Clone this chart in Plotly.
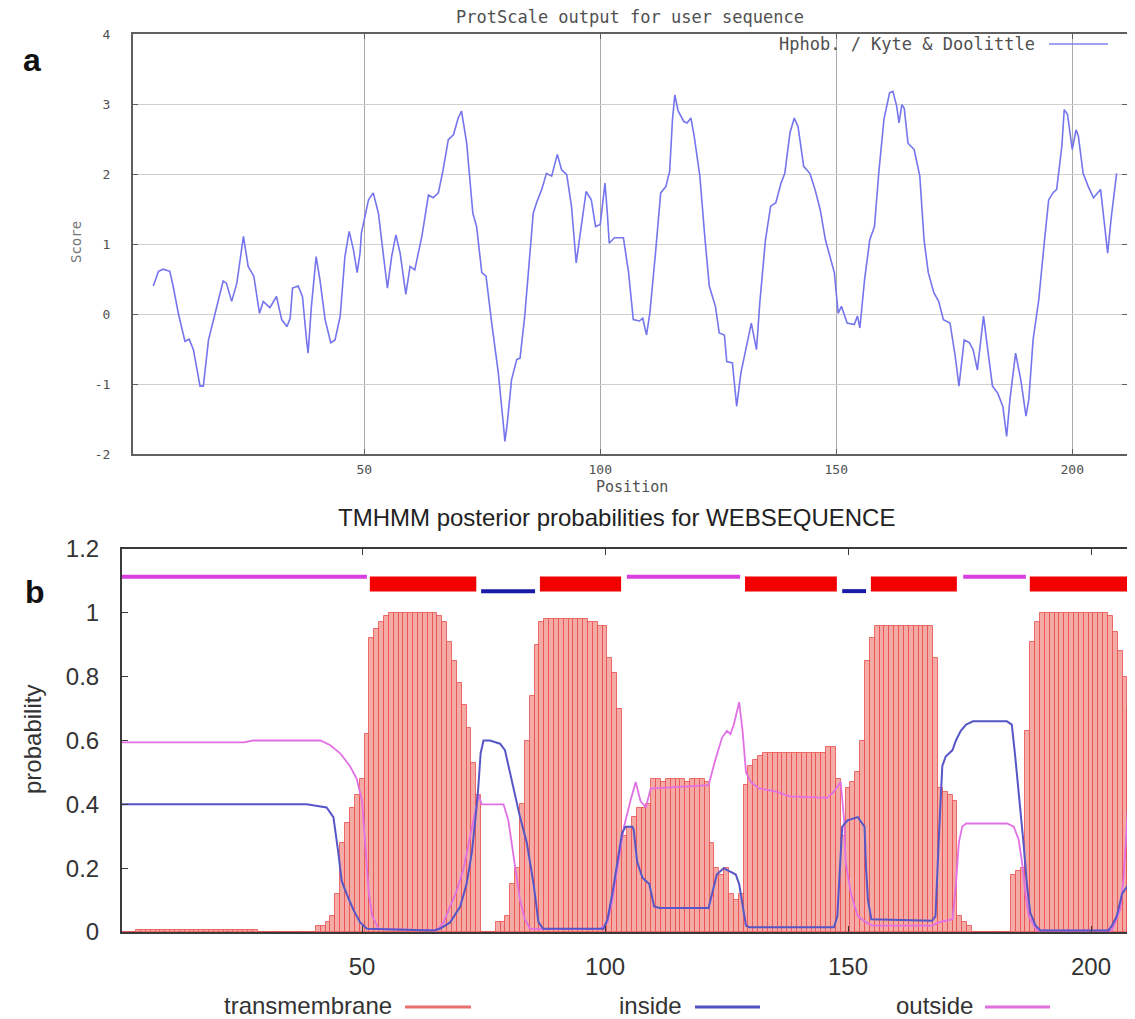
import plotly.graph_objects as go

# ---------------- Panel a: ProtScale (Kyte & Doolittle) ----------------
hyd_pos = [5.3, 6.4, 7.4, 8.8, 9.5, 10.6, 12.0, 12.9, 13.8, 15.2, 15.9, 17.0, 18.4, 20.1, 20.8,
           21.9, 23.0, 24.4, 25.4, 26.6, 27.8, 28.6, 30.0, 31.4, 32.5, 33.6, 34.3, 34.8, 36.0,
           36.9, 37.8, 38.1, 38.8, 39.8, 40.6, 41.7, 42.9, 43.8, 44.9, 45.9, 46.8, 47.7, 48.5,
           49.1, 49.4, 50.2, 50.9, 51.9, 53.0, 54.0, 54.9, 55.8, 56.7, 57.6, 58.8, 59.7, 60.7,
           62.2, 63.6, 64.6, 65.7, 66.7, 67.8, 68.9, 69.9, 70.6, 71.7, 73.0, 73.8, 74.9, 75.8,
           77.0, 78.4, 79.5, 79.8, 80.3, 81.2, 82.3, 83.0, 84.0, 85.1, 85.8, 86.5, 87.6, 88.6,
           89.7, 90.9, 91.8, 92.9, 93.9, 94.9, 95.7, 97.0, 98.1, 99.0, 100.0, 101.0, 101.5,
           101.9, 103.0, 104.9, 106.0, 107.0, 108.3, 109.0, 109.8, 110.5, 111.7, 112.8, 113.9,
           114.7, 115.3, 115.8, 116.5, 117.7, 118.4, 119.2, 119.9, 121.1, 122.2, 123.1, 124.4,
           125.2, 126.3, 126.8, 128.0, 128.9, 129.8, 131.2, 132.0, 133.1, 133.8, 135.0, 136.1,
           137.2, 138.3, 139.1, 140.2, 141.1, 141.9, 143.1, 144.4, 145.5, 146.6, 147.7, 148.9,
           149.6, 150.0, 150.4, 151.1, 152.3, 153.8, 154.5, 155.0, 156.0, 157.1, 158.1, 159.0,
           160.1, 161.3, 162.0, 162.8, 163.3, 163.9, 164.4, 165.2, 166.5, 167.7, 168.6, 169.5,
           170.7, 171.7, 172.7, 174.1, 175.2, 176.0, 177.1, 178.2, 179.0, 179.9, 180.7, 181.2,
           182.0, 183.1, 184.2, 185.3, 186.1, 186.8, 188.0, 189.1, 190.2, 190.8, 191.7, 192.9,
           194.0, 195.0, 195.9, 196.7, 197.8, 198.3, 199.0, 200.0, 200.8, 201.3, 202.3, 203.4,
           204.5, 206.0, 206.8, 207.5, 208.3, 209.4]
hyd_val = [0.40, 0.61, 0.64, 0.61, 0.40, 0.01, -0.39, -0.36, -0.51, -1.03, -1.03, -0.37, 0.01,
           0.47, 0.44, 0.18, 0.44, 1.11, 0.68, 0.54, 0.01, 0.18, 0.09, 0.25, -0.08, -0.18, -0.06,
           0.37, 0.40, 0.25, -0.39, -0.56, 0.11, 0.82, 0.49, -0.08, -0.41, -0.37, -0.03, 0.82,
           1.18, 0.92, 0.59, 0.87, 1.16, 1.44, 1.63, 1.73, 1.44, 0.87, 0.37, 0.82, 1.13, 0.87,
           0.28, 0.68, 0.63, 1.11, 1.70, 1.66, 1.73, 2.06, 2.49, 2.56, 2.80, 2.90, 2.44, 1.44,
           1.25, 0.59, 0.54, -0.13, -0.84, -1.60, -1.82, -1.56, -0.94, -0.65, -0.63, -0.03, 0.87,
           1.44, 1.59, 1.78, 2.01, 1.97, 2.28, 2.06, 1.99, 1.54, 0.73, 1.11, 1.75, 1.63, 1.25,
           1.28, 1.87, 1.44, 1.01, 1.09, 1.09, 0.59, -0.08, -0.10, -0.06, -0.30, 0.01, 0.87, 1.73,
           1.82, 2.04, 2.78, 3.13, 2.90, 2.75, 2.73, 2.80, 2.54, 1.97, 1.06, 0.40, 0.11, -0.27,
           -0.30, -0.68, -0.70, -1.32, -0.84, -0.37, -0.13, -0.51, 0.16, 1.06, 1.54, 1.59, 1.87,
           2.01, 2.59, 2.80, 2.68, 2.11, 2.01, 1.78, 1.49, 1.06, 0.78, 0.59, 0.30, 0.01, 0.11,
           -0.13, -0.15, -0.03, -0.20, 0.49, 1.06, 1.25, 2.01, 2.78, 3.16, 3.18, 2.97, 2.73, 2.99,
           2.94, 2.44, 2.35, 1.97, 1.06, 0.59, 0.30, 0.18, -0.08, -0.13, -0.60, -1.03, -0.37,
           -0.41, -0.51, -0.80, -0.37, -0.03, -0.46, -1.03, -1.13, -1.32, -1.75, -1.22, -0.56,
           -0.94, -1.46, -1.22, -0.37, 0.20, 0.97, 1.63, 1.73, 1.78, 2.40, 2.92, 2.85, 2.35, 2.63,
           2.54, 2.01, 1.82, 1.66, 1.78, 1.30, 0.87, 1.40, 2.01]
top_xticks = [50, 100, 150, 200]
top_yticks = [-2, -1, 0, 1, 2, 3, 4]
top_ytext = ["-2", "-1", "0", "1", "2", "3", "4"]

# ---------------- Panel b: TMHMM posterior probabilities ----------------
tm_pos = list(range(1, 210))
tm_val = ([0.0] * 3 + [0.005] * 25 + [0.0] * 12 +
          [0.02, 0.02, 0.03, 0.05, 0.12, 0.28, 0.34, 0.39, 0.43, 0.48, 0.62, 0.92, 0.95, 0.97, 0.99] +
          [1.0] * 10 +
          [0.99, 0.97, 0.91, 0.85, 0.78, 0.71, 0.64, 0.53, 0.43, 0.0, 0.0, 0.0, 0.03, 0.03, 0.05,
           0.15, 0.20, 0.40, 0.60, 0.74, 0.90, 0.97] +
          [0.98] * 9 +
          [0.97, 0.97, 0.96, 0.96, 0.86, 0.81, 0.70, 0.30, 0.33, 0.36, 0.39, 0.39, 0.40] +
          [0.48, 0.48, 0.47, 0.48, 0.48, 0.48, 0.48, 0.47, 0.48, 0.48, 0.48, 0.47] +
          [0.28, 0.20, 0.18, 0.20, 0.12, 0.10, 0.12, 0.46, 0.52, 0.54] +
          [0.55, 0.56, 0.56, 0.56, 0.56, 0.56, 0.56, 0.56, 0.56, 0.56, 0.56, 0.56, 0.56, 0.56] +
          [0.58, 0.58, 0.48, 0.30, 0.45, 0.47, 0.50, 0.60, 0.85, 0.92] +
          [0.96] * 12 +
          [0.86, 0.45, 0.44, 0.43, 0.41, 0.05, 0.03, 0.02] +
          [0.0] * 8 +
          [0.18, 0.19, 0.20, 0.63, 0.91, 0.97] +
          [1.0] * 14 +
          [0.99, 0.94, 0.88, 0.80, 0.70, 0.60])

inside_pos = [0.6, 38.6, 42.7, 44.1, 45.1, 45.8, 46.8, 48.2, 49.6, 51.0, 64.7, 66.0, 68.1, 70.2,
              71.5, 72.6, 73.3, 73.9, 74.4, 75.0, 76.3, 78.4, 79.4, 81.1, 82.5, 83.9, 85.3, 86.3,
              87.3, 99.7, 100.5, 101.5, 102.5, 103.5, 104.2, 105.6, 105.9, 106.6, 107.7, 109.1,
              110.1, 111.2, 121.3, 122.0, 123.0, 124.4, 125.8, 126.9, 127.6, 128.3, 129.0, 129.7,
              147.1, 147.8, 148.5, 148.8, 149.9, 152.0, 153.4, 153.7, 154.1, 154.8, 167.3, 168.0,
              168.7, 169.4, 170.1, 171.5, 172.2, 173.2, 174.3, 175.7, 182.7, 183.7, 184.4, 185.4,
              186.1, 186.8, 187.5, 188.6, 189.6, 203.6, 204.3, 205.3, 206.4, 207.8, 209.0]
inside_val = [0.40, 0.40, 0.39, 0.36, 0.25, 0.16, 0.12, 0.07, 0.03, 0.01, 0.005, 0.01, 0.03, 0.08,
              0.15, 0.25, 0.35, 0.45, 0.56, 0.60, 0.60, 0.59, 0.57, 0.45, 0.36, 0.28, 0.15, 0.03,
              0.01, 0.01, 0.04, 0.12, 0.22, 0.31, 0.33, 0.33, 0.32, 0.22, 0.17, 0.15,
              0.08, 0.075, 0.075, 0.12, 0.18, 0.20, 0.19, 0.18, 0.15, 0.08, 0.02, 0.015,
              0.015, 0.05, 0.25, 0.33, 0.35, 0.36, 0.33, 0.20, 0.10, 0.04, 0.035, 0.05,
              0.30, 0.52, 0.55, 0.57, 0.60, 0.63, 0.65, 0.66, 0.66, 0.65, 0.55, 0.40,
              0.28, 0.15, 0.06, 0.02, 0.005, 0.005, 0.02, 0.05, 0.12, 0.15, 0.10]

outside_pos = [0.6, 25.6, 27.6, 41.4, 43.4, 45.5, 47.5, 48.9, 50.0, 50.7, 51.4, 52.1, 53.4, 65.4,
               66.8, 68.1, 69.5, 70.9, 72.3, 73.3, 74.0, 74.6, 79.1, 80.1, 81.5, 82.5, 83.5, 84.6,
               99.0, 100.5, 101.5, 102.8, 103.9, 105.2, 106.3, 107.3, 108.4, 109.4, 110.1, 121.3,
               122.7, 124.1, 125.1, 125.8, 126.5, 127.6, 128.3, 129.0, 130.0, 131.7, 135.2, 138.0,
               143.6, 145.7, 147.1, 148.5, 149.2, 149.5, 150.6, 152.0, 153.7, 155.0, 167.3, 168.7,
               171.5, 172.2, 172.8, 173.5, 174.3, 182.7, 184.1, 185.1, 185.8, 186.5, 187.2, 188.2,
               188.9, 204.3, 205.0, 206.0, 206.7, 207.8, 209.0]
outside_val = [0.594, 0.594, 0.60, 0.60, 0.586, 0.56, 0.52, 0.48, 0.41, 0.25, 0.12, 0.05, 0.01, 0.005,
               0.03, 0.08, 0.13, 0.20, 0.30, 0.38, 0.43, 0.40, 0.40, 0.35, 0.20, 0.10, 0.04, 0.01,
               0.01, 0.03, 0.10, 0.22, 0.33, 0.41, 0.47, 0.41, 0.39, 0.45, 0.45, 0.46,
               0.54, 0.61, 0.63, 0.62, 0.65, 0.72, 0.63, 0.50, 0.47, 0.45, 0.44, 0.425,
               0.42, 0.42, 0.44, 0.47, 0.35, 0.22, 0.12, 0.05, 0.03, 0.02, 0.02, 0.03,
               0.04, 0.15, 0.28, 0.33, 0.34, 0.34, 0.33, 0.29, 0.22, 0.12, 0.05, 0.02,
               0.005, 0.005, 0.03, 0.07, 0.17, 0.44, 0.58]

topo_start = [0.6, 51.6, 74.5, 86.6, 104.5, 128.8, 148.8, 154.7, 173.7, 187.4]
topo_end = [51.0, 73.5, 85.6, 103.3, 127.8, 147.7, 153.7, 172.4, 186.6, 210.0]
topo_kind = ["outside", "TMhelix", "inside", "TMhelix", "outside", "TMhelix", "inside",
             "TMhelix", "outside", "TMhelix"]
topo_level = {"outside": 1.113, "TMhelix": 1.090, "inside": 1.068}
topo_color = {"outside": "#D93FE0", "TMhelix": "#F20000", "inside": "#1A1AA8"}
topo_width = {"outside": 4, "TMhelix": 15, "inside": 4}

bot_xticks = [50, 100, 150, 200]
bot_yticks = [0, 0.2, 0.4, 0.6, 0.8, 1, 1.2]

W, H = 1135, 1019
OFF = 8  # page body margin


def px(x):
    return (x - OFF) / W


def py(y):
    return 1 - (y - OFF) / H


fig = go.Figure()

fig.add_trace(go.Scatter(x=hyd_pos, y=hyd_val, mode="lines", xaxis="x", yaxis="y",
                         line=dict(color="#7575EE", width=1.6), showlegend=False))

fig.add_trace(go.Bar(x=tm_pos, y=tm_val, xaxis="x2", yaxis="y2", width=1.0,
                     marker=dict(color="#F4ABA5", line=dict(color="rgba(232,70,70,0.75)", width=1)),
                     showlegend=False))
fig.add_trace(go.Scatter(x=outside_pos, y=outside_val, mode="lines", xaxis="x2", yaxis="y2",
                         line=dict(color="#E070E4", width=1.8), showlegend=False))
fig.add_trace(go.Scatter(x=inside_pos, y=inside_val, mode="lines", xaxis="x2", yaxis="y2",
                         line=dict(color="#5656C6", width=2), showlegend=False))

for s, e, k in zip(topo_start, topo_end, topo_kind):
    fig.add_trace(go.Scatter(x=[s, e], y=[topo_level[k]] * 2, mode="lines", xaxis="x2", yaxis="y2",
                             line=dict(color=topo_color[k], width=topo_width[k]), showlegend=False))

mono = dict(family="DejaVu Sans Mono", size=13, color="#505050")
sans = dict(family="Liberation Sans", size=24, color="#333333")

fig.update_layout(
    width=W, height=H, autosize=False, showlegend=False,
    margin=dict(l=0, r=0, t=0, b=0, pad=0),
    paper_bgcolor="white", plot_bgcolor="white",
    bargap=0,
    xaxis=dict(domain=[px(133), px(1127)], range=[1, 211.6], anchor="y", automargin=False,
               tickvals=top_xticks, showgrid=True, gridcolor="#a9a9a9", gridwidth=1,
               showline=True, linecolor="#606060", linewidth=2, mirror="ticks",
               ticks="inside", ticklen=5, tickcolor="#606060", zeroline=False,
               tickfont=mono, ticklabelstandoff=2),
    yaxis=dict(domain=[py(454), py(34)], range=[-2, 4], anchor="x", automargin=False,
               tickvals=top_yticks, ticktext=top_ytext, showgrid=True, gridcolor="#d0d0d0",
               showline=True, linecolor="#606060", linewidth=2, mirror="ticks",
               ticks="inside", ticklen=5, tickcolor="#606060", zeroline=False,
               tickfont=mono, ticklabelstandoff=18),
    xaxis2=dict(domain=[px(122), px(1135)], range=[0.6, 209.05], anchor="y2", automargin=False,
                tickvals=bot_xticks, showgrid=False, showline=True, linecolor="#3a3a3a",
                linewidth=2, mirror="ticks", ticks="inside", ticklen=6, tickcolor="#3a3a3a",
                zeroline=False, tickfont=sans, ticklabelstandoff=12),
    yaxis2=dict(domain=[py(932), py(549)], range=[0, 1.2], anchor="x2", automargin=False,
                tickvals=bot_yticks, showgrid=False, showline=True, linecolor="#3a3a3a",
                linewidth=2, ticks="inside", ticklen=6, tickcolor="#3a3a3a",
                zeroline=False, tickfont=sans, ticklabelstandoff=16),
)


def note(text, x, y, font, xanchor="center", angle=0):
    return dict(text=text, x=px(x), y=py(y), xref="paper", yref="paper", xanchor=xanchor,
                yanchor="middle", showarrow=False, textangle=angle, font=font)


lbl = dict(family="Liberation Sans", size=24, color="#333333")
ann = [
    note("ProtScale output for user sequence", 630, 17,
         dict(family="DejaVu Sans Mono", size=17, color="#505050")),
    note("Hphob. / Kyte & Doolittle", 1037, 44,
         dict(family="DejaVu Sans Mono", size=17, color="#505050"), xanchor="right"),
    note("Position", 632, 487, dict(family="DejaVu Sans Mono", size=15, color="#505050")),
    note("Score", 76, 242, dict(family="DejaVu Sans Mono", size=14, color="#777777"), angle=-90),
    note("<b>a</b>", 32, 60, dict(family="Liberation Sans", size=32, color="#111111")),
    note("<b>b</b>", 35, 592, dict(family="Liberation Sans", size=32, color="#111111")),
    note("TMHMM posterior probabilities for WEBSEQUENCE", 616, 518,
         dict(family="Liberation Sans", size=24, color="#222222")),
    note("probability", 32, 740, lbl, angle=-90),
    note("transmembrane", 394, 1005, lbl, xanchor="right"),
    note("inside", 684, 1005, lbl, xanchor="right"),
    note("outside", 975, 1005, lbl, xanchor="right"),
]
fig.update_layout(annotations=ann)


def hline(x0, x1, y, color, width):
    return dict(type="line", xref="paper", yref="paper", x0=px(x0), x1=px(x1), y0=py(y), y1=py(y),
                line=dict(color=color, width=width))


fig.update_layout(shapes=[
    hline(1049, 1108, 44, "#8080F0", 1.5),
    hline(405, 471, 1007, "#E87070", 3),
    hline(695, 760, 1007, "#5050C0", 3),
    hline(985, 1050, 1007, "#E070E0", 3),
])

fig.write_html("out.html")
